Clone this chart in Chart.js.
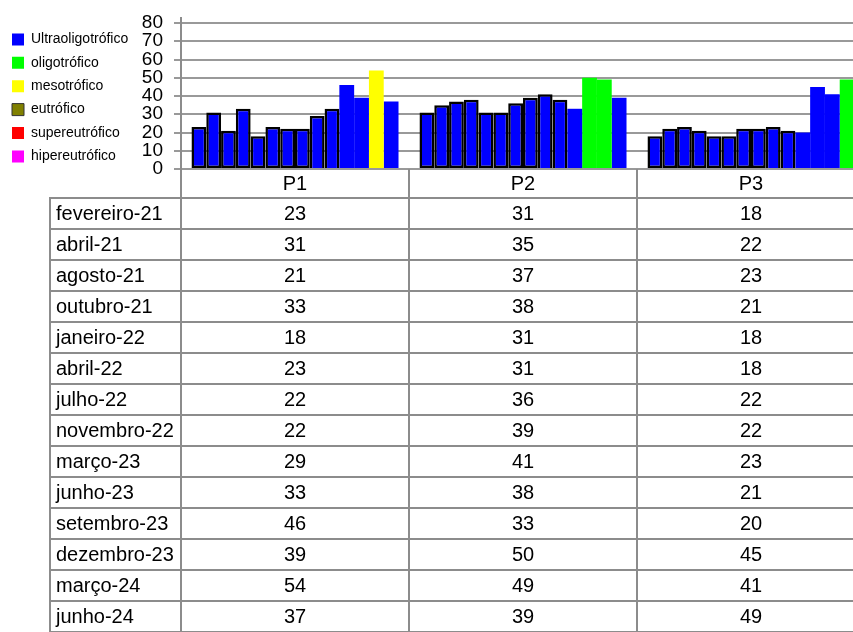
<!DOCTYPE html>
<html><head><meta charset="utf-8">
<script src="https://cdn.jsdelivr.net/npm/chart.js@4/dist/chart.umd.min.js"></script>
<style>html,body{margin:0;padding:0;overflow:hidden;background:#fff}canvas{display:block}</style>
</head><body>
<canvas id="c" width="866" height="632"></canvas>
<script>
const points = ['P1', 'P2', 'P3'];
const dates = ['fevereiro-21','abril-21','agosto-21','outubro-21','janeiro-22','abril-22','julho-22','novembro-22','março-23','junho-23','setembro-23','dezembro-23','março-24','junho-24'];
const p1Values = [23,31,21,33,18,23,22,22,29,33,46,39,54,37];
const p2Values = [31,35,37,38,31,31,36,39,41,38,33,50,49,39];
const p3Values = [18,22,23,21,18,18,22,22,23,21,20,45,41,49];
const yTicks = [0,10,20,30,40,50,60,70,80];
const classNames = ['Ultraoligotrófico','oligotrófico','mesotrófico','eutrófico','supereutrófico','hipereutrófico'];
const classLimits = [47,52,59,63,67];
const classColors = ['#0000FF','#00FF00','#FFFF00','#808000','#FF0000','#FF00FF'];

const series = [p1Values, p2Values, p3Values];
const FONT = '"Liberation Sans", Arial, sans-serif';
const NARROW = '"Liberation Sans Narrow", "Arial Narrow", "Liberation Sans", Arial, sans-serif';
const LINE = '#8c8c8c';

function classColor(v){
  const i = classLimits.findIndex(l => v <= l);
  return classColors[i < 0 ? classColors.length - 1 : i];
}

const datasets = dates.map((d, i) => ({
  label: d,
  data: series.map(s => s[i]),
  backgroundColor: ctx => classColor(ctx.raw),
  borderColor: '#000',
  borderWidth: i < 10 ? 2.5 : 0,
  borderSkipped: i < 8 ? false : 'start',
  categoryPercentage: 0.908,
  barPercentage: 1
}));

const tablePlugin = {
  id: 'dataTable',
  afterDraw(chart){
    const {ctx, chartArea: a, scales: {x}} = chart;
    const H = chart.height, W = chart.width;
    const cw = (a.right - a.left) / points.length;
    const headerBottom = a.bottom + 29;
    const rowH = 31;
    const labelLeft = 50;
    ctx.save();
    ctx.strokeStyle = LINE; ctx.lineWidth = 2;
    ctx.beginPath();
    ctx.moveTo(Math.round(a.left), a.top - 6); ctx.lineTo(Math.round(a.left), a.top);
    for (let k = 0; k <= points.length; k++){
      const xk = Math.round(a.left + k * cw);
      ctx.moveTo(xk, a.bottom); ctx.lineTo(xk, H);
    }
    ctx.moveTo(labelLeft, headerBottom); ctx.lineTo(labelLeft, H);
    for (let r = 0; r <= dates.length; r++){
      const y = Math.round(headerBottom + r * rowH);
      ctx.moveTo(labelLeft - 1, y); ctx.lineTo(W, y);
    }
    ctx.stroke();
    ctx.fillStyle = '#000';
    ctx.font = '20px ' + FONT;
    ctx.textBaseline = 'middle';
    dates.forEach((d, r) => {
      const yc = headerBottom + r * rowH + rowH / 2 + 1;
      ctx.textAlign = 'left';
      ctx.fillText(d, labelLeft + 6, yc);
      ctx.textAlign = 'center';
      series.forEach((s, c) => ctx.fillText(String(s[r]), x.getPixelForTick(c), yc));
    });
    ctx.restore();
  }
};

new Chart(document.getElementById('c'), {
  type: 'bar',
  data: { labels: points, datasets },
  plugins: [tablePlugin],
  options: {
    responsive: false,
    animation: false,
    events: [],
    layout: { padding: { top: 23, left: 2.6, right: 1, bottom: 0 } },
    plugins: {
      tooltip: { enabled: false },
      legend: {
        position: 'left',
        fullSize: true,
        align: 'start',
        onClick: null,
        labels: {
          boxWidth: 12,
          boxHeight: 12,
          padding: 9.4,
          color: '#000',
          font: { family: NARROW, size: 14 },
          generateLabels: () => classNames.map((n, i) => ({
            text: n, fillStyle: classColors[i], strokeStyle: i === 3 ? '#333' : classColors[i],
            lineWidth: i === 3 ? 1 : 0, hidden: false, fontColor: '#000', datasetIndex: i
          }))
        }
      }
    },
    scales: {
      x: {
        type: 'category',
        grid: { display: false, drawTicks: false },
        border: { display: false },
        ticks: { color: '#000', font: { family: FONT, size: 20 }, padding: 3, maxRotation: 0 },
        afterFit(s){ s.height = 632 - 169; }
      },
      y: {
        min: 0, max: 80,
        afterBuildTicks(s){ s.ticks = yTicks.map(v => ({ value: v })); },
        ticks: { color: '#000', font: { family: FONT, size: 19, lineHeight: 1 }, padding: 11, autoSkip: false },
        grid: { color: '#999', lineWidth: 2, tickLength: 7 },
        border: { color: LINE, width: 2 },
        afterFit(s){
          const lw = s.chart.legend ? s.chart.legend.width : 0;
          s.width = Math.max(10, 181 - 2.6 - lw);
        }
      }
    }
  }
});
</script>
</body></html>
